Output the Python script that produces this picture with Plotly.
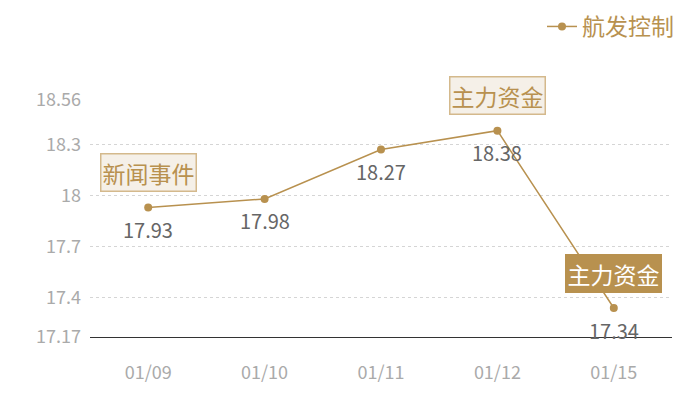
import plotly.graph_objects as go

# data
dates = ["01/09", "01/10", "01/11", "01/12", "01/15"]
prices = [17.93, 17.98, 18.27, 18.38, 17.34]
y_ticks = [17.17, 17.4, 17.7, 18, 18.3, 18.56]
events = [("01/09", 17.93, "新闻事件", False),
          ("01/12", 18.38, "主力资金", False),
          ("01/15", 17.34, "主力资金", True)]

gold = "#b8914f"
font_cn = "Noto Sans CJK SC"

fig = go.Figure(
    go.Scatter(
        x=dates,
        y=prices,
        mode="lines+markers",
        name="航发控制",
        line=dict(color=gold, width=1.5),
        marker=dict(color=gold, size=8),
        cliponaxis=False,
    )
)

# value labels under each point
for d, p in zip(dates, prices):
    fig.add_annotation(
        x=d, y=p, text=str(p), showarrow=False, yshift=-22,
        font=dict(size=20, color="#666666", family=font_cn),
    )

for d, p, label, dark in events:
    fig.add_annotation(
        x=d, y=p, text=label, showarrow=False, yshift=35,
        font=dict(size=23, color="white" if dark else gold, family=font_cn),
        bgcolor=gold if dark else "#f5f0e8",
        bordercolor="#d4b98c" if not dark else gold,
        borderwidth=1.5, borderpad=1,
    )

# page body adds 8px, so the figure is 692x392 and everything is shifted up/left by 8
top = 45
fig.update_layout(
    width=692, height=392,
    margin=dict(l=82, r=28, t=top, b=63, autoexpand=False),
    plot_bgcolor="white",
    paper_bgcolor="white",
    font=dict(family=font_cn),
    showlegend=True,
    legend=dict(
        x=1.0 + 7 / 582, xanchor="right", y=(329 + 3) / (329 - top), yanchor="top",
        font=dict(size=23, color=gold, family=font_cn),
        itemwidth=30,
        bgcolor="rgba(0,0,0,0)",
    ),
    xaxis=dict(
        type="category",
        range=[-0.5, 4.5],
        showgrid=False,
        showline=True, linecolor="#333333", linewidth=1,
        tickfont=dict(size=18, color="#aaaaaa"),
        ticks="",
        ticklabelstandoff=19,
    ),
    yaxis=dict(
        domain=[0, 237 / (329 - top)],
        range=[17.17, 18.56],
        tickvals=y_ticks,
        ticktext=[str(v) for v in y_ticks],
        showgrid=True, gridcolor="#d5d5d5", griddash="dot", gridwidth=1,
        zeroline=False,
        showline=False,
        tickfont=dict(size=18, color="#aaaaaa"),
        ticklabelstandoff=8,
    ),
)

fig.write_html("out.html")
